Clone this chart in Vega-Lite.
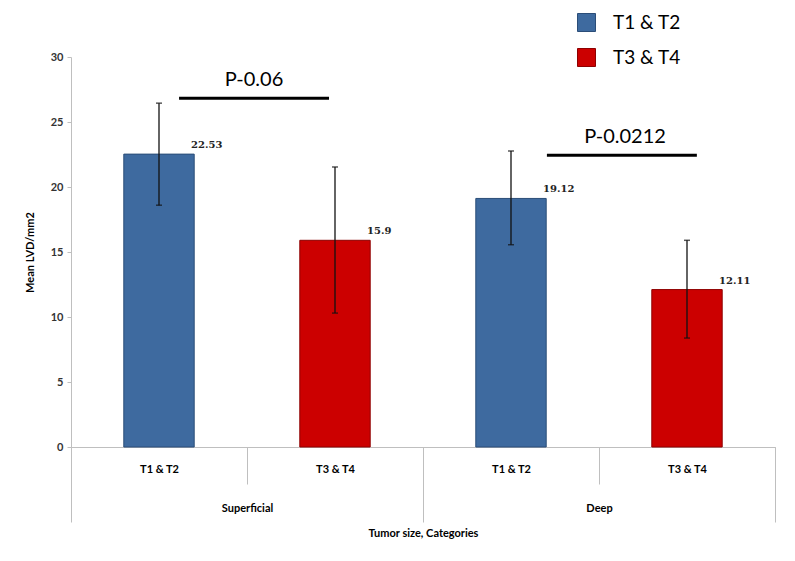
{
"$schema":"https://vega.github.io/schema/vega-lite/v6.json",
"padding":{"left":24,"top":13,"right":10,"bottom":10},
"background":"white",
"width":704,"height":390,
"data":{"values":[
 {"kind":"bar","group":"Superficial","cat":"S1","size":"T1 & T2","mean":22.53,"lo":18.6,"hi":26.45},
 {"kind":"bar","group":"Superficial","cat":"S2","size":"T3 & T4","mean":15.9,"lo":10.3,"hi":21.54},
 {"kind":"bar","group":"Deep","cat":"D1","size":"T1 & T2","mean":19.12,"lo":15.56,"hi":22.77},
 {"kind":"bar","group":"Deep","cat":"D2","size":"T3 & T4","mean":12.11,"lo":8.38,"hi":15.9},
 {"kind":"p","group":"Superficial","py":26.82,"ty":27.77,"label":"P-0.06"},
 {"kind":"p","group":"Deep","py":22.44,"ty":23.4,"label":"P-0.0212"}
]},
"layer":[
 {"transform":[{"filter":"datum.kind==='bar'"}],
  "layer":[
  {"mark":{"type":"bar","strokeWidth":1,"width":{"band":0.4}},
   "encoding":{
    "x":{"field":"cat","type":"nominal","scale":{"domain":["S1","S2","D1","D2"],"paddingInner":0,"paddingOuter":0},
      "axis":{"orient":"bottom","title":null,"tickBand":"extent","domainColor":"#BFBFBF","tickColor":"#BFBFBF","tickSize":37,"labelPadding":-21,
        "labelExpr":"datum.value === 'S1' || datum.value === 'D1' ? 'T1 & T2' : (datum.value === 'S2' || datum.value === 'D2' ? 'T3 & T4' : '')",
        "labelAngle":0,"labelFont":"Lato","labelFontSize":11,"labelFontWeight":"bold","labelColor":"#000"}},
    "y":{"field":"mean","type":"quantitative","scale":{"domain":[0,30]},
      "axis":{"values":[0,5,10,15,20,25,30],"title":"Mean LVD/mm2","grid":false,"domainColor":"#BFBFBF","tickColor":"#BFBFBF","tickSize":4,"labelFont":"Lato","labelFontSize":11,"labelFontWeight":"bold","labelColor":"#333","labelPadding":4,"titleFont":"Lato","titleFontSize":11,"titleFontWeight":"bold","titleColor":"#000","titlePadding":15}},
    "color":{"field":"size","type":"nominal","scale":{"domain":["T1 & T2","T3 & T4"],"range":["#3E6A9F","#CC0000"]},
      "legend":{"title":null,"orient":"none","legendX":506,"legendY":-44,"padding":0,"symbolType":"square","symbolSize":324,"symbolStrokeWidth":1,"labelFont":"Lato","labelFontSize":19,"labelColor":"#000","labelOffset":17,"rowPadding":12}},
    "stroke":{"field":"size","type":"nominal","scale":{"domain":["T1 & T2","T3 & T4"],"range":["#2B4D78","#8E0000"]},
      "legend":{"title":null,"orient":"none","legendX":506,"legendY":-44,"padding":0,"symbolType":"square","symbolSize":324,"symbolStrokeWidth":1,"labelFont":"Lato","labelFontSize":19,"labelColor":"#000","labelOffset":17,"rowPadding":12}}
   }},
  {"mark":{"type":"rule","color":"#111","strokeWidth":1.3},
   "encoding":{"x":{"field":"cat","type":"nominal","bandPosition":0.5},"y":{"field":"lo","type":"quantitative"},"y2":{"field":"hi"}}},
  {"mark":{"type":"tick","color":"#111","thickness":1.5,"size":6},
   "encoding":{"x":{"field":"cat","type":"nominal"},"y":{"field":"lo","type":"quantitative"}}},
  {"mark":{"type":"tick","color":"#111","thickness":1.5,"size":6},
   "encoding":{"x":{"field":"cat","type":"nominal"},"y":{"field":"hi","type":"quantitative"}}},
  {"mark":{"type":"text","align":"left","baseline":"alphabetic","dx":-3,"dy":-6,"font":"DejaVu Serif","fontWeight":"bold","fontSize":10,"color":"#222"},
   "encoding":{"x":{"field":"cat","type":"nominal","bandPosition":0.699},"y":{"field":"mean","type":"quantitative"},"text":{"field":"mean","type":"quantitative"}}}
  ]},
 {"transform":[{"filter":"datum.kind==='p'"}],
  "layer":[
  {"transform":[{"filter":"datum.group==='Superficial'"}],
   "mark":{"type":"rule","color":"#000","strokeWidth":3},
   "encoding":{"x":{"field":"group","type":"nominal","bandPosition":0.307,"scale":{"domain":["Superficial","Deep"],"paddingInner":0,"paddingOuter":0},
      "axis":{"orient":"bottom","title":"Tumor size, Categories","tickBand":"extent","domainColor":"#BFBFBF","tickColor":"#BFBFBF","tickSize":75,"labelPadding":-20,"labelAngle":0,"labelFont":"Lato","labelFontSize":11,"labelFontWeight":"bold","labelColor":"#000","titleFont":"Lato","titleFontSize":11,"titleFontWeight":"bold","titleColor":"#000","titlePadding":5}},
     "x2":{"field":"group","bandPosition":0.733},"y":{"field":"py","type":"quantitative"}}},
  {"transform":[{"filter":"datum.group==='Deep'"}],
   "mark":{"type":"rule","color":"#000","strokeWidth":3},
   "encoding":{"x":{"field":"group","type":"nominal","bandPosition":0.352},"x2":{"field":"group","bandPosition":0.778},"y":{"field":"py","type":"quantitative"}}},
  {"transform":[{"filter":"datum.group==='Superficial'"}],
   "mark":{"type":"text","align":"center","baseline":"alphabetic","font":"Lato","fontSize":20,"color":"#000"},
   "encoding":{"x":{"field":"group","type":"nominal","bandPosition":0.52},"y":{"field":"ty","type":"quantitative"},"text":{"field":"label"}}},
  {"transform":[{"filter":"datum.group==='Deep'"}],
   "mark":{"type":"text","align":"center","baseline":"alphabetic","font":"Lato","fontSize":20,"color":"#000"},
   "encoding":{"x":{"field":"group","type":"nominal","bandPosition":0.574},"y":{"field":"ty","type":"quantitative"},"text":{"field":"label"}}}
  ]}
],
"resolve":{"scale":{"x":"independent"}},
"config":{"view":{"stroke":null}}
}
